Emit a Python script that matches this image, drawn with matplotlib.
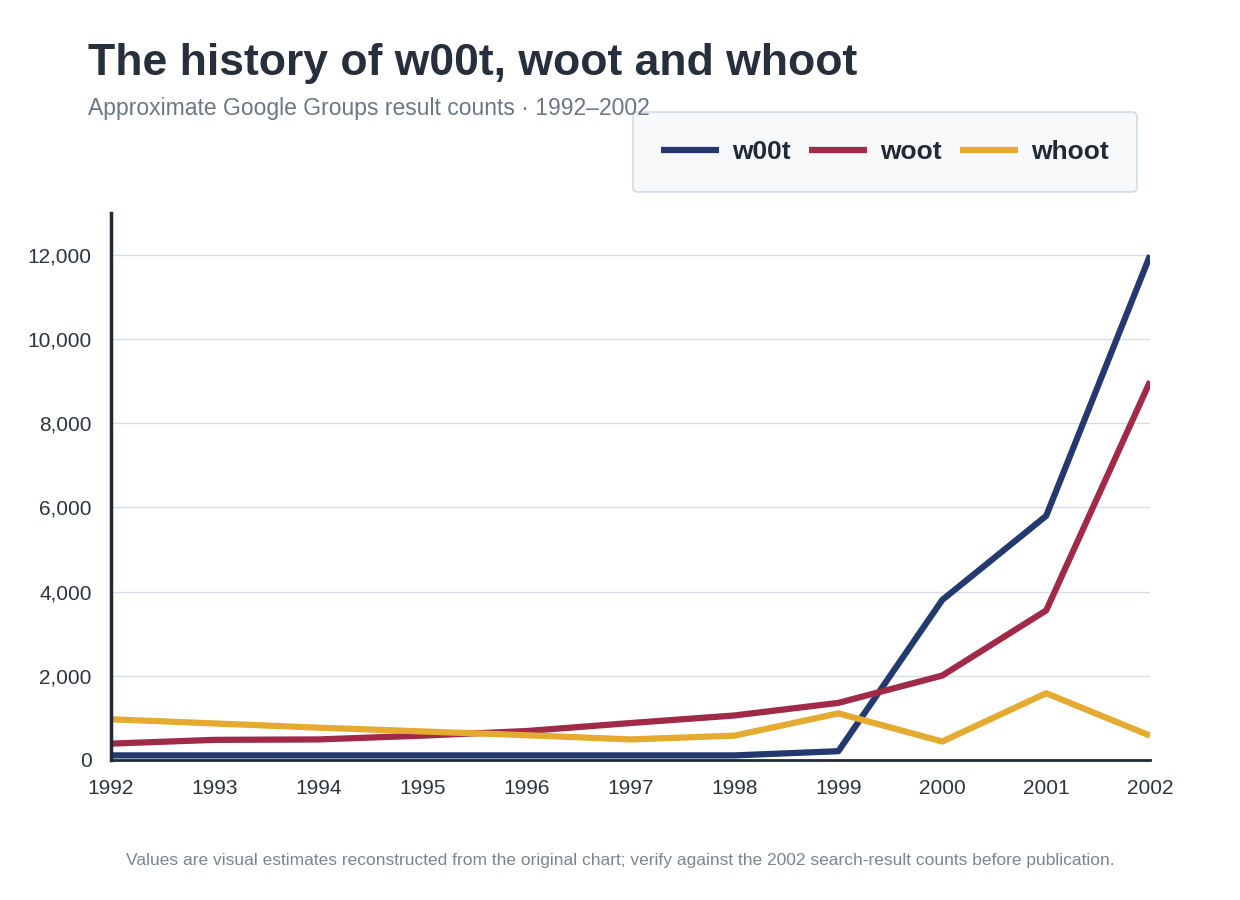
import matplotlib.pyplot as plt
from matplotlib.ticker import FuncFormatter

years = list(range(1992, 2003))
w00t = [100, 100, 100, 100, 100, 100, 100, 200, 3800, 5800, 12000]
woot = [380, 470, 480, 570, 680, 870, 1050, 1350, 2000, 3550, 9000]
whoot = [960, 860, 760, 670, 580, 480, 570, 1100, 430, 1580, 570]

series = [('w00t', w00t, '#243a6f'), ('woot', woot, '#a02a48'), ('whoot', whoot, '#e5aa30')]

plt.rcParams['font.family'] = ['Liberation Sans', 'DejaVu Sans']
fig = plt.figure(figsize=(12.4, 9), dpi=100)
ax = fig.add_axes([0.0895, 0.156, 0.838, 0.607])

for name, vals, col in series:
    ax.plot(years, vals, color=col, lw=4.5, label=name, solid_capstyle='butt')

ax.set_xlim(1992, 2002)
ax.set_ylim(0, 13000)
ax.set_xticks(years)
ax.set_yticks(range(0, 12001, 2000))
ax.yaxis.set_major_formatter(FuncFormatter(lambda v, p: f'{int(v):,}'))
ax.grid(axis='y', color='#d5dde5', lw=1)
ax.set_axisbelow(True)
for s in ['top', 'right']:
    ax.spines[s].set_visible(False)
ax.spines['left'].set_color('#1f2a36')
ax.spines['left'].set_linewidth(2.5)
ax.spines['bottom'].set_color('#1f2a36')
ax.spines['bottom'].set_linewidth(2)
ax.tick_params(length=0, labelsize=15, colors='#2b3440')
ax.tick_params(axis='x', pad=14)
ax.tick_params(axis='y', pad=14)

leg = ax.legend(loc='lower right', bbox_to_anchor=(1.0, 1.015), ncol=3, frameon=True,
                handlelength=2.2, columnspacing=0.7, handletextpad=0.5,
                borderpad=1.05, fancybox=True, prop={'weight': 'bold', 'size': 19})
leg.get_frame().set_facecolor('#f5f8fb')
leg.get_frame().set_edgecolor('#c8d4e0')
leg.get_frame().set_linewidth(1.2)
for t in leg.get_texts():
    t.set_color('#1f2a36')

fig.text(0.071, 0.93, 'The history of w00t, woot and whoot', fontsize=32,
         fontweight='bold', color='#25303c', va='center')
fig.text(0.071, 0.879, 'Approximate Google Groups result counts · 1992–2002',
         fontsize=16.5, color='#6b7785', va='center')
fig.text(0.5, 0.044, 'Values are visual estimates reconstructed from the original chart; '
         'verify against the 2002 search-result counts before publication.',
         fontsize=12.5, color='#7a8593', ha='center', va='center')

fig.savefig('out.png', dpi=100)
